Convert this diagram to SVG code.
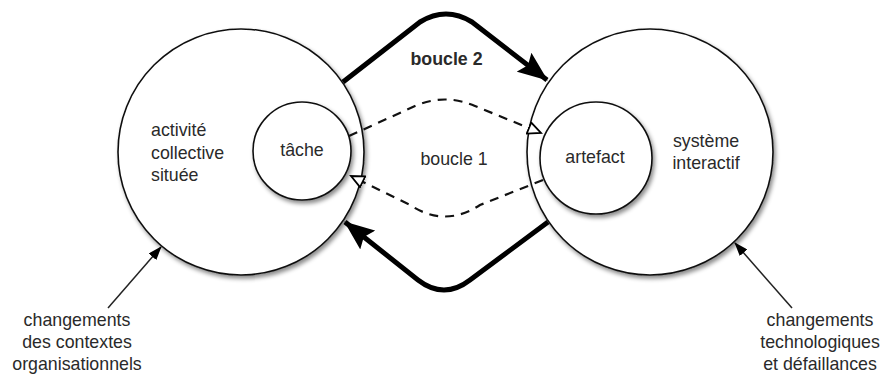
<svg xmlns="http://www.w3.org/2000/svg" width="883" height="377" viewBox="0 0 883 377">
<style>
  text { font-family: "Liberation Sans", Arial, sans-serif; font-size: 17.8px; fill: #2a2a2a; }
  .b { font-weight: bold; }
  .c { text-anchor: middle; }
  .circ { fill: #fff; stroke: #111; stroke-width: 1.6; filter: url(#sh); }
  .thick { fill: none; stroke: #000; stroke-width: 5; stroke-linejoin: round; }
  .dash { fill: none; stroke: #111; stroke-width: 2.2; stroke-dasharray: 9 7; }
  .thin { fill: none; stroke: #222; stroke-width: 1.5; }
</style>
<defs>
  <filter id="sh" x="-20%" y="-20%" width="140%" height="140%">
    <feDropShadow dx="2" dy="3" stdDeviation="2" flood-color="#000" flood-opacity="0.45"/>
  </filter>
  <marker id="big" markerUnits="userSpaceOnUse" viewBox="0 0 30 24" refX="29" refY="12" markerWidth="30" markerHeight="24" orient="auto">
    <path d="M0,0 L30,12 L0,24 L5,12 Z" fill="#000"/>
  </marker>
  <marker id="open" markerUnits="userSpaceOnUse" viewBox="0 0 16 14" refX="14" refY="7" markerWidth="16" markerHeight="14" orient="auto">
    <path d="M1,1 L14,7 L1,13 Z" fill="#fff" stroke="#000" stroke-width="1.8"/>
  </marker>
  <marker id="small" markerUnits="userSpaceOnUse" viewBox="0 0 14 10" refX="13" refY="5" markerWidth="14" markerHeight="10" orient="auto">
    <path d="M0,0 L14,5 L0,10 Z" fill="#000"/>
  </marker>
</defs>

<g id="activite">
  <circle class="circ" cx="241" cy="152" r="123"/>
  <text x="151" y="136">activité</text>
  <text x="151" y="158.5">collective</text>
  <text x="151" y="181">située</text>
</g>
<g id="systeme">
  <circle class="circ" cx="650" cy="152" r="123"/>
  <text class="c" x="706" y="147">système</text>
  <text class="c" x="706" y="169">interactif</text>
</g>
<g id="tache">
  <circle class="circ" cx="302" cy="151" r="49"/>
  <text class="c" x="302" y="156">tâche</text>
</g>
<g id="artefact">
  <circle class="circ" cx="596" cy="158" r="56"/>
  <text class="c" x="595" y="163">artefact</text>
</g>

<g id="connectors">
  <path class="thick" d="M343,82 L420,22 Q446,6 472,22 L547,80" marker-end="url(#big)"/>
  <path class="thick" d="M548,222 L470,280 Q444,300 418,280 L345,222" marker-end="url(#big)"/>
  <path class="dash" d="M349,136 L415,106 Q445,93 475,106 L541,133" marker-end="url(#open)"/>
  <path class="dash" d="M543,180 L480,205 Q445,228 410,205 L351,176" marker-end="url(#open)"/>
  <path class="thin" d="M108,308 L161,247" marker-end="url(#small)"/>
  <path class="thin" d="M792,308 L735,243" marker-end="url(#small)"/>
</g>

<g id="labels">
  <text class="c b" x="446.5" y="65">boucle 2</text>
  <text class="c" x="454" y="165">boucle 1</text>
  <text class="c" x="77" y="326">changements</text>
  <text class="c" x="77" y="348">des contextes</text>
  <text class="c" x="77" y="370">organisationnels</text>
  <text class="c" x="820" y="326">changements</text>
  <text class="c" x="820" y="348">technologiques</text>
  <text class="c" x="820" y="370">et défaillances</text>
</g>
</svg>
